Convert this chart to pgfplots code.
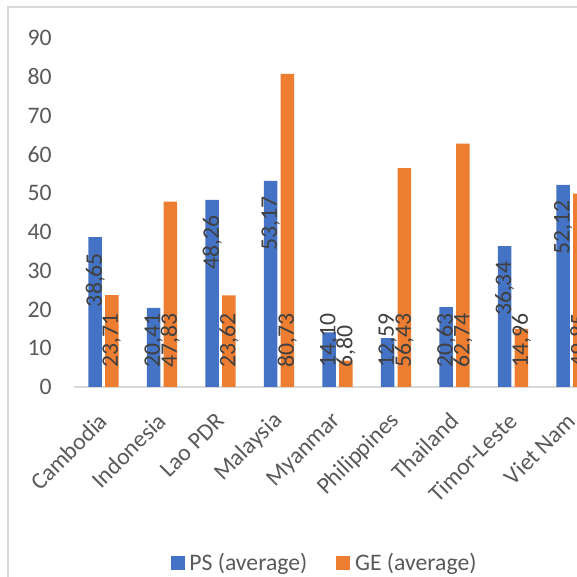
\documentclass[border=0pt]{standalone}
\usepackage{fontspec}
\setmainfont{Carlito}
\usepackage{pgfplots}
\pgfplotsset{compat=1.18}
\definecolor{psblue}{HTML}{4472C4}
\definecolor{georange}{HTML}{ED7D31}
\definecolor{txt}{HTML}{595959}
\definecolor{lbl}{HTML}{404040}
\definecolor{axgray}{HTML}{D9D9D9}

\pgfplotstableread{
x ps ge
0 38.65 23.71
1 20.41 47.83
2 48.26 23.62
3 53.17 80.73
4 14.10 6.80
5 12.59 56.43
6 20.63 62.74
7 36.34 14.96
8 52.12 49.85
}\datatable

\pgfplotstableread{
x y lab
-0.142 34.65 38,65
1.858 44.26 48,26
2.858 49.17 53,17
6.858 32.34 36,34
7.858 48.12 52,12
}\psend

\pgfplotstableread{
x y lab
0.858 4.9 20,41
3.858 4.9 14,10
4.858 4.9 12,59
5.858 4.9 20,63
0.142 4.9 23,71
1.142 4.9 47,83
2.142 4.9 23,62
3.142 4.9 80,73
4.142 4.9 6,80
5.142 4.9 56,43
6.142 4.9 62,74
7.142 4.9 14,96
8.142 4.9 49,85
}\baselabels

\begin{document}
\begin{tikzpicture}[font=\fontsize{11.85pt}{14pt}\selectfont]
\draw[axgray, line width=0.75pt] (4pt,285pt) rectangle (420pt,-100pt);
\begin{axis}[
  at={(37.125pt,95pt)}, anchor=south west,
  scale only axis, width=263.25pt, height=174.5pt,
  xmin=-0.5, xmax=8.5, ymin=0, ymax=90,
  clip=false,
  axis x line=bottom, axis y line=left,
  x axis line style={-, draw=axgray, line width=0.75pt},
  y axis line style={draw=none},
  major tick length=0pt,
  ytick={0,10,...,90},
  xtick={0,...,8},
  xticklabels={Cambodia,Indonesia,Lao PDR,Malaysia,Myanmar,Philippines,Thailand,Timor-Leste,Viet Nam},
  /pgf/number format/assume math mode=true,
  yticklabel style={anchor=east, inner sep=0pt, xshift=-11.1pt, text=txt},
  xticklabel style={yshift=-15pt, rotate=45, anchor=east, inner sep=0pt, text=txt},
  legend style={at={(0.4734,-0.5043)}, anchor=center, draw=none, fill=none,
    inner sep=0pt, legend columns=2, text=txt,
    nodes={inner sep=0pt},
    /tikz/every odd column/.append style={column sep=2.4pt},
    /tikz/every even column/.append style={column sep=14.5pt}},
  legend image code/.code={\fill[#1] (0pt,-3.5pt) rectangle (7pt,3.5pt);},
]
\addplot[ybar, bar width=6.75pt, bar shift=-4.15pt, fill=psblue, draw=none] table[x=x, y=ps] {\datatable};
\addplot[ybar, bar width=6.75pt, bar shift=4.15pt, fill=georange, draw=none] table[x=x, y=ge] {\datatable};
\legend{PS (average), GE (average)}
\addplot[forget plot, draw=none, mark=none, nodes near coords, point meta=explicit symbolic,
  every node near coord/.append style={rotate=90, anchor=east, inner sep=0pt, text=lbl}]
  table[x=x, y=y, meta=lab] {\psend};
\addplot[forget plot, draw=none, mark=none, nodes near coords, point meta=explicit symbolic,
  every node near coord/.append style={rotate=90, anchor=west, inner sep=0pt, text=lbl}]
  table[x=x, y=y, meta=lab] {\baselabels};
\end{axis}
\pgfresetboundingbox
\useasboundingbox (0pt,0pt) rectangle (288.5pt,288.5pt);
\end{tikzpicture}
\end{document}
